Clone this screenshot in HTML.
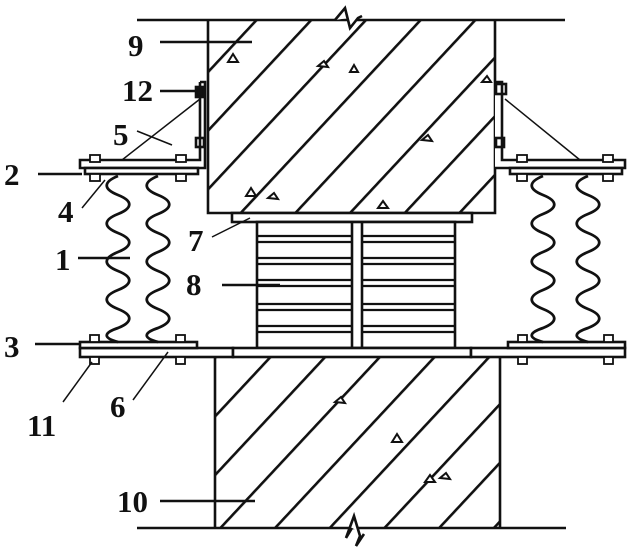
<!DOCTYPE html>
<html><head><meta charset="utf-8"><style>
html,body{margin:0;padding:0;background:#fff;width:640px;height:559px;overflow:hidden}
svg{display:block}
text{font-family:"Liberation Serif",serif;font-weight:bold;font-size:31px;fill:#111}
</style></head><body>
<svg width="640" height="559" viewBox="0 0 640 559" xmlns="http://www.w3.org/2000/svg">
<defs>
<pattern id="h" patternUnits="userSpaceOnUse" width="40" height="40" patternTransform="rotate(43)">
<rect x="0" y="0" width="2.6" height="40" fill="#111"/>
</pattern>
<path id="bel" d="M0 0 c-15 6 -15 13 0 19 c15 6 15 13 0 19 c-15 6 -15 13 0 19 c15 6 15 13 0 19 c-15 6 -15 13 0 19 c15 6 15 13 0 19 c-15 6 -15 13 0 19 c15 6 15 13 0 19 c-15 5 -15 10 0 14" fill="none" stroke="#111" stroke-width="2.8"/>
</defs>
<g stroke="#111" stroke-width="2.6" fill="none">
<rect x="208" y="20" width="287" height="193" fill="url(#h)" stroke="none"/>
<line x1="137" y1="20" x2="565" y2="20"/>
<polyline points="208,20 208,213 495,213 495,20"/>
<path d="M335 20 l10 -12 l5 20 l8 -10 l4 -2" fill="#fff"/>
<rect x="215" y="357" width="285" height="171" fill="url(#h)" stroke="none"/>
<line x1="137" y1="528" x2="566" y2="528"/>
<polyline points="215,357 215,528"/><polyline points="500,357 500,528"/>
<path d="M352 528 l-6 10 l8 -22 l6 20 l-4 10 l8 -12" fill="#fff"/>
<g stroke-width="2" fill="#fff">
<path d="M228 62 l5 -8 l5 8 z"/><path d="M318 66 l6 -5 l4 6 z"/><path d="M350 72 l4 -7 l4 7 z"/>
<path d="M246 196 l5 -8 l5 8 z"/><path d="M268 198 l6 -5 l4 6 z"/><path d="M378 208 l5 -7 l5 7 z"/>
<path d="M422 140 l6 -5 l4 6 z"/><path d="M482 82 l5 -6 l4 6 z"/>
<path d="M335 402 l6 -5 l4 6 z"/><path d="M392 442 l5 -8 l5 8 z"/><path d="M425 482 l5 -7 l5 7 z"/><path d="M440 478 l6 -5 l4 6 z"/>
</g>
<rect x="232" y="213" width="240" height="9" fill="#fff"/>
<rect x="257" y="222" width="198" height="126" fill="#fff"/>
<line x1="352" y1="222" x2="352" y2="348"/><line x1="362" y1="222" x2="362" y2="348"/>
<g stroke-width="2.2">
<line x1="257" y1="236" x2="352" y2="236"/><line x1="362" y1="236" x2="455" y2="236"/>
<line x1="257" y1="242" x2="352" y2="242"/><line x1="362" y1="242" x2="455" y2="242"/>
<line x1="257" y1="258" x2="352" y2="258"/><line x1="362" y1="258" x2="455" y2="258"/>
<line x1="257" y1="264" x2="352" y2="264"/><line x1="362" y1="264" x2="455" y2="264"/>
<line x1="257" y1="280" x2="352" y2="280"/><line x1="362" y1="280" x2="455" y2="280"/>
<line x1="257" y1="286" x2="352" y2="286"/><line x1="362" y1="286" x2="455" y2="286"/>
<line x1="257" y1="304" x2="352" y2="304"/><line x1="362" y1="304" x2="455" y2="304"/>
<line x1="257" y1="310" x2="352" y2="310"/><line x1="362" y1="310" x2="455" y2="310"/>
<line x1="257" y1="326" x2="352" y2="326"/><line x1="362" y1="326" x2="455" y2="326"/>
<line x1="257" y1="332" x2="352" y2="332"/><line x1="362" y1="332" x2="455" y2="332"/>
</g>
<rect x="80" y="348" width="153" height="9" fill="#fff"/>
<rect x="233" y="348" width="238" height="9" fill="#fff"/>
<rect x="471" y="348" width="154" height="9" fill="#fff"/>
<rect x="80" y="342" width="117" height="6" fill="#fff"/>
<rect x="508" y="342" width="117" height="6" fill="#fff"/>
<polyline points="200,82 205,82 205,168 80,168 80,160 200,160 200,82" fill="#fff"/>
<rect x="85" y="168" width="113" height="6" fill="#fff"/>
<rect x="196" y="87" width="8" height="10" fill="#111"/><rect x="196" y="138" width="8" height="9"/>
<line x1="200" y1="99" x2="122" y2="160" stroke-width="1.5"/>
<polyline points="495,82 502,82 502,160 625,160 625,168 495,168" fill="#fff"/>
<rect x="510" y="168" width="112" height="6" fill="#fff"/>
<rect x="496" y="84" width="10" height="10"/><rect x="496" y="138" width="8" height="9"/>
<line x1="505" y1="99" x2="580" y2="160" stroke-width="1.5"/>
<g fill="#fff" stroke-width="1.8">
<rect x="90" y="155" width="10" height="7"/><rect x="90" y="174" width="10" height="7"/>
<rect x="176" y="155" width="10" height="7"/><rect x="176" y="174" width="10" height="7"/>
<rect x="517" y="155" width="10" height="7"/><rect x="517" y="174" width="10" height="7"/>
<rect x="603" y="155" width="10" height="7"/><rect x="603" y="174" width="10" height="7"/>
<rect x="90" y="335" width="9" height="7"/><rect x="90" y="357" width="9" height="7"/>
<rect x="176" y="335" width="9" height="7"/><rect x="176" y="357" width="9" height="7"/>
<rect x="518" y="335" width="9" height="7"/><rect x="518" y="357" width="9" height="7"/>
<rect x="604" y="335" width="9" height="7"/><rect x="604" y="357" width="9" height="7"/>
</g>
<line x1="160" y1="42" x2="252" y2="42"/>
<line x1="160" y1="91" x2="196" y2="91"/>
<line x1="137" y1="131" x2="172" y2="145" stroke-width="1.5"/>
<line x1="38" y1="174" x2="82" y2="174"/>
<line x1="82" y1="208" x2="105" y2="180" stroke-width="1.5"/>
<line x1="212" y1="237" x2="250" y2="218" stroke-width="1.5"/>
<line x1="78" y1="258" x2="130" y2="258"/>
<line x1="222" y1="285" x2="280" y2="285"/>
<line x1="35" y1="344" x2="80" y2="344"/>
<line x1="63" y1="402" x2="92" y2="362" stroke-width="1.5"/>
<line x1="133" y1="400" x2="168" y2="352" stroke-width="1.5"/>
<line x1="160" y1="501" x2="255" y2="501"/>
</g>
<use href="#bel" x="118" y="176"/>
<use href="#bel" x="158" y="176"/>
<use href="#bel" x="543" y="176"/>
<use href="#bel" x="588" y="176"/>
<text x="128" y="56">9</text>
<text x="122" y="101">12</text>
<text x="113" y="145">5</text>
<text x="4" y="185">2</text>
<text x="58" y="222">4</text>
<text x="188" y="251">7</text>
<text x="55" y="270">1</text>
<text x="186" y="295">8</text>
<text x="4" y="357">3</text>
<text x="27" y="436">11</text>
<text x="110" y="417">6</text>
<text x="117" y="512">10</text>
</svg>
</body></html>
